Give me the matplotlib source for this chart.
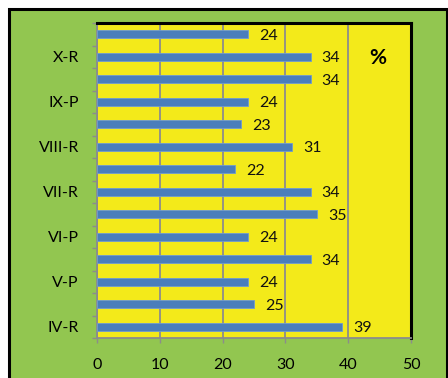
import matplotlib
matplotlib.use("Agg")
import matplotlib.pyplot as plt
from matplotlib.patches import Rectangle

plt.rcParams['font.family'] = ['Lato', 'DejaVu Sans']

# Category labels (bottom to top); only every other category is labelled on the axis
categories = ['IV-R', '', 'V-P', '', 'VI-P', '', 'VII-R', '', 'VIII-R', '', 'IX-P', '', 'X-R', '']
values = [39, 25, 24, 34, 24, 35, 34, 22, 31, 23, 24, 34, 34, 24]
x_ticks = [0, 10, 20, 30, 40, 50]

GREEN = '#92C650'
YELLOW = '#F3EA1A'
BLUE = '#4A7EBB'
GRID = '#8C8C8C'

fig = plt.figure(figsize=(4.48, 3.78), dpi=100)
fig.patch.set_facecolor('white')

# Green chart panel with black frame
panel = Rectangle((8.5 / 448, -0.05), (446.5 - 8.5) / 448, 1.05 - 8.5 / 378,
                  transform=fig.transFigure, facecolor=GREEN,
                  edgecolor='black', linewidth=2.2, zorder=-5)
fig.patches.append(panel)

ax = fig.add_axes([97 / 448, 1 - 338 / 378, (411 - 97) / 448, (338 - 23) / 378])
ax.set_zorder(2)
ax.set_facecolor(YELLOW)

ypos = list(range(len(values)))
ax.barh(ypos, values, height=0.36, color=BLUE, edgecolor='#6F9BD0',
        linewidth=0.6, zorder=3)

for y, v in zip(ypos, values):
    ax.annotate(str(v), xy=(v, y), xytext=(8, -1), textcoords='offset points',
                ha='left', va='center', fontsize=11.5, color='#111111', zorder=4)

ax.set_xlim(0, 50)
ax.set_ylim(-0.5, len(values) - 0.5)
ax.set_xticks(x_ticks)
ax.set_xticklabels([str(t) for t in x_ticks], fontsize=11.5)
ax.set_yticks(ypos)
ax.set_yticklabels(categories, fontsize=11.5)
ax.set_yticks([i - 0.5 for i in range(len(values) + 1)], minor=True)

ax.tick_params(axis='y', which='major', length=0, pad=13)
ax.tick_params(axis='y', which='minor', length=3.5, width=1, color=GRID, direction='out')
ax.tick_params(axis='x', which='major', length=3.5, width=1, color=GRID, direction='out', pad=11)

ax.xaxis.grid(True, color=GRID, linewidth=1.3, zorder=1)
ax.set_axisbelow(True)

for side in ('left', 'bottom'):
    ax.spines[side].set_color(GRID)
    ax.spines[side].set_linewidth(1.3)
for side in ('top', 'right'):
    ax.spines[side].set_color('black')
    ax.spines[side].set_linewidth(2.2)

ax.text(0.893, 0.89, '%', transform=ax.transAxes, fontsize=15,
        fontweight='bold', ha='center', va='center', color='black')

fig.savefig('out.png', dpi=100, facecolor=fig.get_facecolor())
